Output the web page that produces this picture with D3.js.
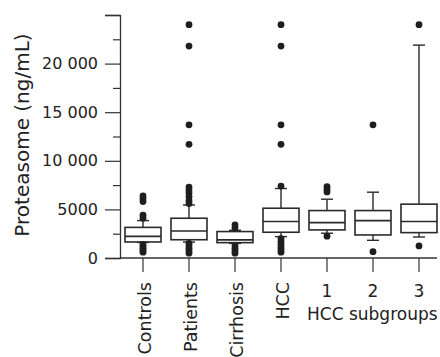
<!DOCTYPE html>
<html>
<head>
<meta charset="utf-8">
<script src="https://cdn.jsdelivr.net/npm/d3@7"></script>
<style>
  html, body { margin: 0; padding: 0; background: #fff; }
  svg { display: block; }
  text { font-family: "DejaVu Sans", "Liberation Sans", Arial, sans-serif; fill: #222; }
</style>
</head>
<body>
<svg id="chart" width="440" height="357"></svg>
<script>
// ---- data ----
const categories = ["Controls", "Patients", "Cirrhosis", "HCC", "1", "2", "3"];
const q1          = [1650, 1880, 1580, 2650, 2890, 2370, 2610];
const median      = [2220, 2780, 1860, 3750, 3640, 3850, 3750];
const q3          = [3150, 4090, 2720, 5120, 4880, 4880, 5540];
const whiskerLow  = [1600, 1640, 1500, 2200, 2550, 1820, 2160];
const whiskerHigh = [3850, 5450, 2850, 7150, 6050, 6770, 21900];
const outliers = [
  [6400, 6100, 5800, 4400, 4100, 1400, 1200, 1000, 800, 600],
  [24000, 21800, 13700, 11700, 7300, 7000, 6700, 6300, 5900, 5600, 1500, 1250, 1000, 750, 500],
  [3400, 3100, 1250, 1000, 750, 500],
  [24000, 21800, 13700, 11700, 7400, 2000, 1700, 1400, 1100, 850, 600],
  [7350, 7050, 6800, 2250],
  [13700, 650],
  [24000, 1240]
];
const yMajorTicks = [0, 5000, 10000, 15000, 20000, 25000];
const yMinorTicks = [2500, 7500, 12500, 17500, 22500];
const yLabel = "Proteasome (ng/mL)";
const subgroupLabel = "HCC subgroups";

// ---- layout ----
const svg = d3.select("#chart");
const x0 = 120, yBase = 258, yTop = 15;
const x = d3.scaleBand().domain(categories).range([x0, 442]).paddingInner(0).paddingOuter(0);
const y = d3.scaleLinear().domain([0, 25000]).range([yBase, yTop]);
const axisColor = "#333";
const boxW = 36, capW = 12;

const fmt = v => v === 25000 ? "" : (v >= 10000 ? d3.format(",")(v).replace(/,/g, " ") : String(v));

// y axis majors
const gy = svg.append("g").attr("transform", `translate(${x0},0)`)
  .call(d3.axisLeft(y).tickValues(yMajorTicks).tickSize(15).tickPadding(7).tickFormat(fmt));
gy.select(".domain").attr("stroke", axisColor).attr("stroke-width", 1.3);
gy.selectAll(".tick line").attr("stroke", axisColor).attr("stroke-width", 1.2);
gy.selectAll(".tick text").attr("font-size", 16).attr("font-family", "DejaVu Sans, sans-serif").attr("fill", "#222");

// y axis minors
const gym = svg.append("g").attr("transform", `translate(${x0},0)`)
  .call(d3.axisLeft(y).tickValues(yMinorTicks).tickSize(7).tickFormat(""));
gym.select(".domain").remove();
gym.selectAll(".tick line").attr("stroke", axisColor).attr("stroke-width", 1.2);

// x axis
const gx = svg.append("g").attr("transform", `translate(0,${yBase})`)
  .call(d3.axisBottom(x).tickSize(14).tickFormat(""));
gx.select(".domain").remove();
gx.selectAll(".tick line").attr("stroke", axisColor).attr("stroke-width", 1.2);
svg.append("line").attr("x1", x0).attr("x2", 437).attr("y1", yBase).attr("y2", yBase)
  .attr("stroke", axisColor).attr("stroke-width", 1.3);

// category labels
categories.forEach((c, i) => {
  const cx = x(c) + x.bandwidth() / 2;
  if (i < 4) {
    svg.append("text")
      .attr("transform", `translate(${cx + 8},${282}) rotate(-90)`)
      .attr("text-anchor", "end")
      .attr("font-size", 17.5)
      .text(c);
  } else {
    svg.append("text")
      .attr("x", cx).attr("y", 297)
      .attr("text-anchor", "middle")
      .attr("font-size", 17)
      .text(c);
  }
});
svg.append("text").attr("x", 307).attr("y", 320).attr("font-size", 17).text(subgroupLabel);

// y label
svg.append("text")
  .attr("transform", `translate(29,${135}) rotate(-90)`)
  .attr("text-anchor", "middle")
  .attr("font-size", 20)
  .text(yLabel);

// boxes
const boxColor = "#2a2a2a";
const g = svg.append("g");
categories.forEach((c, i) => {
  const cx = x(c) + x.bandwidth() / 2;
  // whiskers
  g.append("line").attr("x1", cx).attr("x2", cx).attr("y1", y(q3[i])).attr("y2", y(whiskerHigh[i]))
    .attr("stroke", boxColor).attr("stroke-width", 1.4);
  g.append("line").attr("x1", cx).attr("x2", cx).attr("y1", y(q1[i])).attr("y2", y(whiskerLow[i]))
    .attr("stroke", boxColor).attr("stroke-width", 1.4);
  g.append("line").attr("x1", cx - capW / 2).attr("x2", cx + capW / 2)
    .attr("y1", y(whiskerHigh[i])).attr("y2", y(whiskerHigh[i]))
    .attr("stroke", boxColor).attr("stroke-width", 1.4);
  g.append("line").attr("x1", cx - capW / 2).attr("x2", cx + capW / 2)
    .attr("y1", y(whiskerLow[i])).attr("y2", y(whiskerLow[i]))
    .attr("stroke", boxColor).attr("stroke-width", 1.4);
  // box
  g.append("rect").attr("x", cx - boxW / 2).attr("width", boxW)
    .attr("y", y(q3[i])).attr("height", y(q1[i]) - y(q3[i]))
    .attr("fill", "#fff").attr("stroke", boxColor).attr("stroke-width", 1.6);
  g.append("line").attr("x1", cx - boxW / 2).attr("x2", cx + boxW / 2)
    .attr("y1", y(median[i])).attr("y2", y(median[i]))
    .attr("stroke", boxColor).attr("stroke-width", 1.6);
  // outliers
  g.selectAll(null).data(outliers[i]).enter().append("circle")
    .attr("cx", cx).attr("cy", d => y(d)).attr("r", 3.4)
    .attr("fill", "#1e1e1e");
});
</script>
</body>
</html>
